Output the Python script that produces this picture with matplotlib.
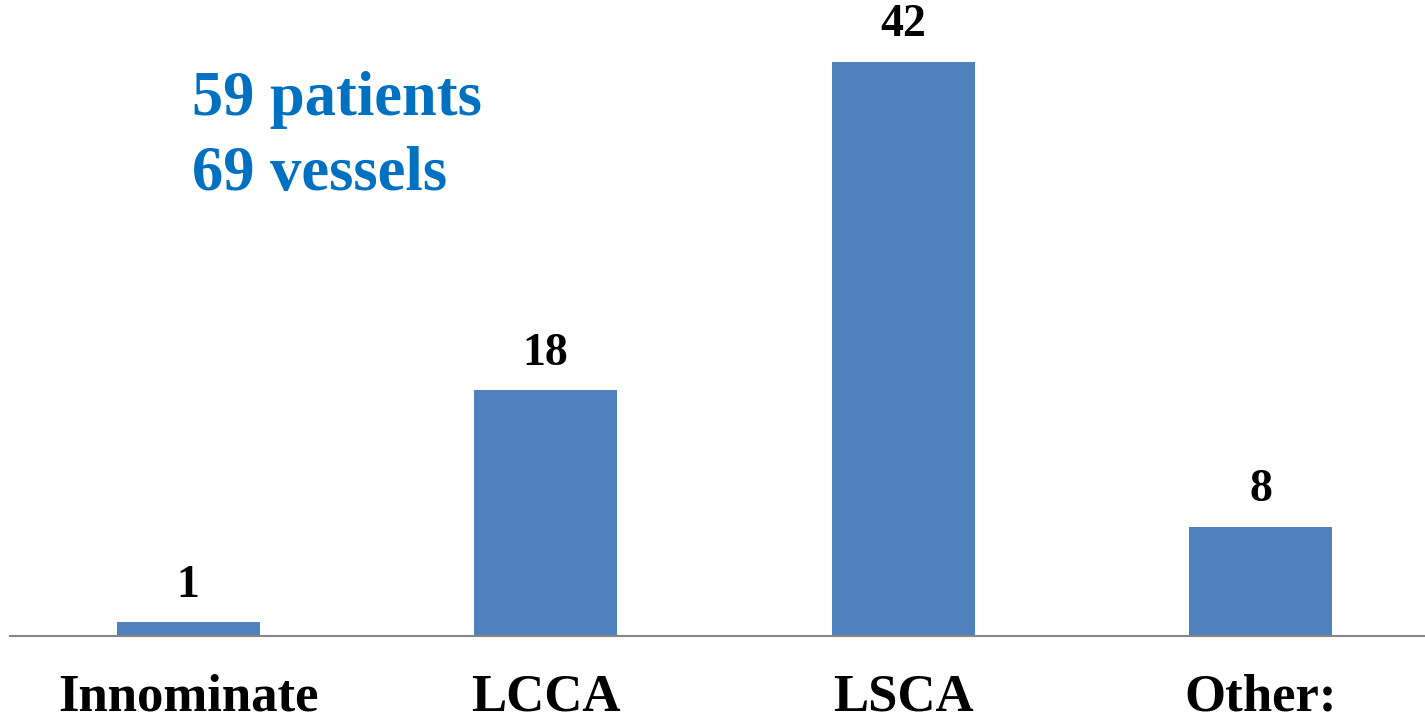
import matplotlib.pyplot as plt

categories = ['Innominate', 'LCCA', 'LSCA', 'Other:']
counts = [1, 18, 42, 8]
summary = ['59 patients', '69 vessels']

plt.rcParams['font.family'] = ['Liberation Serif', 'DejaVu Serif']

fig = plt.figure(figsize=(14.25, 7.19), dpi=100)
ax = fig.add_axes([10 / 1425, 83 / 719, 1415 / 1425, 636 / 719])

x = range(len(categories))
bars = ax.bar(x, counts, width=0.4, color='#4F81BD')
ax.set_xlim(-0.498, 3.46)
ax.set_ylim(0, 46.5)

for b, v in zip(bars, counts):
    ax.annotate(str(v), (b.get_x() + b.get_width() / 2, v), xytext=(0, 11),
                textcoords='offset points', ha='center', va='bottom',
                fontsize=33, fontweight='bold', color='black')

ax.set_xticks(list(x))
ax.set_xticklabels(categories, fontsize=38, fontweight='bold')
ax.tick_params(axis='x', length=0, pad=27)
ax.set_yticks([])
for s in ['top', 'right', 'left']:
    ax.spines[s].set_visible(False)
ax.spines['bottom'].set_color('#868686')
ax.spines['bottom'].set_linewidth(1.5)

fig.text(192 / 1425, 1 - 115 / 719, summary[0], fontsize=45, fontweight='bold',
         color='#0070C0', ha='left', va='baseline')
fig.text(192 / 1425, 1 - 190 / 719, summary[1], fontsize=45, fontweight='bold',
         color='#0070C0', ha='left', va='baseline')

fig.savefig('out.png', dpi=100)
